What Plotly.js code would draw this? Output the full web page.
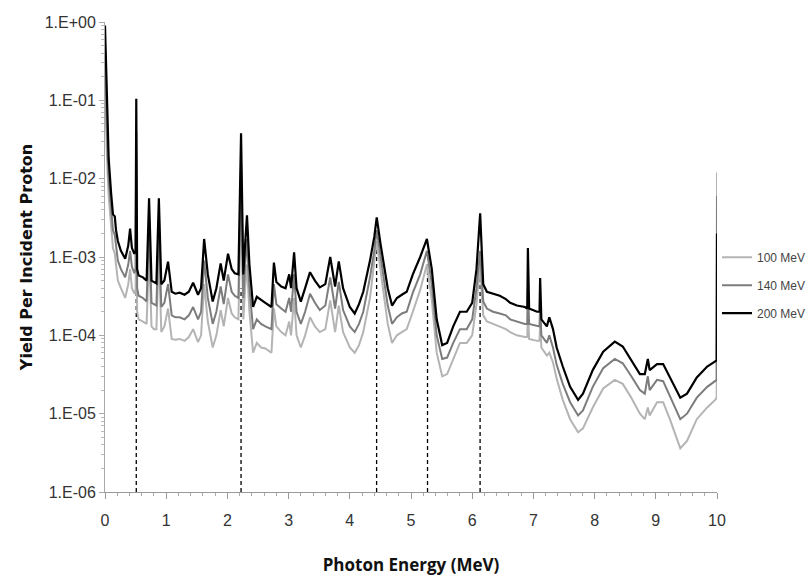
<!DOCTYPE html>
<html>
<head>
<meta charset="utf-8">
<script src="https://cdn.plot.ly/plotly-3.0.1.min.js"></script>
<style>html,body{margin:0;padding:0;background:#fff;}#chart{width:809px;height:581px;}</style>
</head>
<body>
<div id="chart"></div>
<script>
const energy = [
  0, 0.015, 0.03, 0.06, 0.10, 0.13, 0.16, 0.18, 0.21, 0.26,
  0.33, 0.38, 0.41, 0.44, 0.48, 0.50, 0.511, 0.525, 0.55, 0.62,
  0.68, 0.72, 0.76, 0.80, 0.84, 0.88, 0.92, 0.97, 1.03, 1.09,
  1.15, 1.22, 1.30, 1.37, 1.44, 1.52, 1.57, 1.62, 1.68, 1.76,
  1.82, 1.89, 1.94, 2.01, 2.07, 2.12, 2.18, 2.223, 2.26, 2.29,
  2.32, 2.36, 2.42, 2.48, 2.55, 2.62, 2.72, 2.76, 2.80, 2.88,
  2.95, 3.01, 3.04, 3.09, 3.13, 3.20, 3.27, 3.35, 3.43, 3.51,
  3.60, 3.68, 3.76, 3.82, 3.89, 4.00, 4.08, 4.15, 4.22, 4.33,
  4.40, 4.44, 4.50, 4.56, 4.62, 4.69, 4.77, 4.85, 4.93, 5.03,
  5.15, 5.26, 5.34, 5.42, 5.51, 5.59, 5.69, 5.80, 5.91, 6.00,
  6.07, 6.13, 6.18, 6.24, 6.34, 6.45, 6.55, 6.62, 6.73, 6.86,
  6.90, 6.91, 6.93, 7.06, 7.10, 7.11, 7.13, 7.22, 7.26, 7.32,
  7.38, 7.48, 7.60, 7.73, 7.81, 7.97, 8.14, 8.33, 8.46, 8.60,
  8.74, 8.82, 8.87, 8.90, 9.02, 9.12, 9.23, 9.40, 9.51, 9.67,
  9.84, 9.97, 9.995, 10.0
];

const yield100 = [
  0.3, 0.08, 0.02, 0.006, 0.0022, 0.0013, 0.0011, 0.0008, 0.0005, 0.0004,
  0.0003, 0.00045, 0.0007, 0.0004, 0.00034, 0.00038, 0.02, 0.0002, 0.00016, 0.00015,
  0.00014, 0.0012, 0.00013, 0.00012, 0.00012, 0.0012, 0.00011, 0.00013, 0.00022, 0.00009,
  0.000088, 0.00009, 0.000085, 0.000095, 0.00012, 0.000082, 0.0001, 0.00045, 0.00015, 0.00007,
  0.0001, 0.00021, 0.00013, 0.0003, 0.00019, 0.00017, 0.00016, 0.006, 0.00016, 0.0004,
  0.0008, 0.0002, 0.00006, 0.00008, 0.00007, 0.000068, 0.00006, 0.00022, 0.00013, 0.00011,
  0.0001, 0.00015, 0.0001, 0.0003, 0.0001, 0.00007, 0.0001, 0.00017, 0.00013, 0.00011,
  0.00012, 0.00028, 0.00011, 0.00024, 0.00011, 0.00007, 0.00006, 0.000075, 0.00011, 0.0003,
  0.0008, 0.0016, 0.0007, 0.0003, 0.00014, 0.00008, 0.0001, 0.00011, 0.00012, 0.0002,
  0.00038, 0.0008, 0.00028, 0.00006, 0.00003, 0.000032, 0.00005, 0.00008, 0.00008, 0.0001,
  0.00025, 0.0008, 0.00018, 0.00015, 0.00014, 0.00013, 0.00012, 0.00011, 0.0001, 0.000095,
  0.000095, 0.0002, 0.00009, 0.000085, 0.000085, 0.00014, 0.00007, 0.000055, 0.00006, 0.000045,
  0.000028, 0.000015, 0.0000085, 0.0000058, 0.0000065, 0.000012, 0.000021, 0.000027, 0.000024, 0.000016,
  0.00001, 0.0000085, 0.000012, 0.0000095, 0.000014, 0.000014, 0.0000085, 0.0000036, 0.0000045, 0.0000085,
  0.000012, 0.000015, 0.000016, 0.012
];

const yield140 = [
  0.5, 0.15, 0.04, 0.01, 0.0038, 0.0022, 0.0019, 0.0013, 0.0009, 0.0007,
  0.00055, 0.0008, 0.0012, 0.00075, 0.00062, 0.0007, 0.04, 0.0004, 0.00032, 0.0003,
  0.00027, 0.0025, 0.00026, 0.00025, 0.00024, 0.0025, 0.00023, 0.00026, 0.00045, 0.00018,
  0.00017, 0.00017, 0.00016, 0.00018, 0.00023, 0.00016, 0.0002, 0.0009, 0.0003, 0.00014,
  0.0002, 0.00042, 0.00025, 0.0006, 0.00036, 0.00032, 0.0003, 0.015, 0.0003, 0.0008,
  0.0017, 0.0004, 0.00012, 0.00016, 0.00014, 0.00013, 0.00012, 0.00045, 0.00025, 0.00022,
  0.0002, 0.0003, 0.0002, 0.0006, 0.0002, 0.00014, 0.0002, 0.00034, 0.00026, 0.00021,
  0.00024, 0.00055, 0.00022, 0.00048, 0.00021, 0.00013, 0.00011, 0.00014, 0.0002, 0.00055,
  0.0012, 0.0022, 0.001, 0.0005, 0.00024, 0.00014, 0.00017, 0.00019, 0.0002, 0.00035,
  0.0006, 0.0012, 0.00045, 0.0001, 0.00005, 0.000052, 0.00008, 0.00012, 0.00012, 0.00016,
  0.0004, 0.0012, 0.00027, 0.00022, 0.0002, 0.00019, 0.00018, 0.00016, 0.00015, 0.00014,
  0.00014, 0.0004, 0.00014, 0.00013, 0.00013, 0.00025, 0.0001, 0.00008, 0.0001, 0.00007,
  0.000042, 0.000024, 0.000014, 0.0000095, 0.000011, 0.000022, 0.000038, 0.00005, 0.000044, 0.00003,
  0.00002, 0.000018, 0.00003, 0.00002, 0.000027, 0.000026, 0.000017, 0.0000085, 0.00001, 0.000016,
  0.000022, 0.000026, 0.000027, 0.006
];

const yield200 = [
  0.9, 0.3, 0.08, 0.018, 0.0065, 0.0035, 0.0033, 0.0022, 0.0016, 0.0012,
  0.00095, 0.0014, 0.0023, 0.0013, 0.0011, 0.0012, 0.105, 0.0007, 0.00058, 0.00055,
  0.0005, 0.0056, 0.0005, 0.00048, 0.00046, 0.0056, 0.00045, 0.0005, 0.00087, 0.00036,
  0.00034, 0.00035, 0.00033, 0.00036, 0.00047, 0.00033, 0.0004, 0.0017, 0.0006, 0.00027,
  0.0004, 0.00083, 0.0005, 0.0011, 0.0007, 0.00062, 0.0006, 0.038, 0.0006, 0.0015,
  0.0034, 0.0008, 0.00023, 0.00031, 0.00028, 0.00026, 0.00023, 0.00085, 0.00048, 0.00042,
  0.0004, 0.0006, 0.0004, 0.00115, 0.0004, 0.00027, 0.0004, 0.00064, 0.0005, 0.00041,
  0.00045, 0.001, 0.00042, 0.00088, 0.0004, 0.00023, 0.00019, 0.00025, 0.00036, 0.0009,
  0.0018, 0.0032, 0.0015, 0.0008, 0.0004, 0.00024, 0.0003, 0.00033, 0.00036, 0.0006,
  0.001, 0.0017, 0.0007, 0.00016, 0.000075, 0.00008, 0.00013, 0.0002, 0.0002, 0.00026,
  0.0007, 0.0036, 0.00045, 0.00036, 0.00034, 0.00032, 0.00029, 0.00026, 0.00024, 0.00023,
  0.00022, 0.0013, 0.00022, 0.0002, 0.0002, 0.00054, 0.00016, 0.00013, 0.00017, 0.00012,
  0.00007, 0.00004, 0.000022, 0.000015, 0.000018, 0.000036, 0.000062, 0.000083, 0.000072, 0.000047,
  0.000032, 0.000032, 0.00005, 0.000036, 0.000043, 0.000043, 0.000029, 0.000016, 0.000018, 0.000029,
  0.00004, 0.000046, 0.000048, 0.002
];

const seriesNames = ['100 MeV', '140 MeV', '200 MeV'];

// characteristic gamma lines (dashed markers)
const lineEnergies = [0.511, 2.223, 4.438, 5.27, 6.129];
const lineTops = [0.0004, 0.0004, 0.0016, 0.0008, 0.0008];
const yFloor = 1e-6;

const yTickVals = [1, 0.1, 0.01, 0.001, 0.0001, 0.00001, 0.000001];
const yTickText = ['1.E+00', '1.E-01', '1.E-02', '1.E-03', '1.E-04', '1.E-05', '1.E-06'];

const dashX = [], dashY = [];
lineEnergies.forEach((e, i) => {
  dashX.push(e, e, null);
  dashY.push(yFloor, lineTops[i], null);
});

const narrow = '"Liberation Sans Narrow", "Arial Narrow", "Liberation Sans", sans-serif';

const traces = [
  {x: dashX, y: dashY, mode: 'lines', line: {color: '#000', width: 1.3, dash: '4px,3px'},
   showlegend: false, hoverinfo: 'skip'},
  {x: energy, y: yield100, name: seriesNames[0], mode: 'lines', legendgroup: 'a',
   line: {color: '#b4b4b4', width: 2}},
  {x: energy, y: yield140, name: seriesNames[1], mode: 'lines', legendgroup: 'b',
   line: {color: '#7c7c7c', width: 2}},
  {x: energy, y: yield200, name: seriesNames[2], mode: 'lines', legendgroup: 'c',
   line: {color: '#000000', width: 2.2}}
];

const layout = {
  width: 809, height: 581,
  margin: {l: 105, r: 92, t: 22, b: 89, autoexpand: false},
  paper_bgcolor: '#fff', plot_bgcolor: '#fff',
  showlegend: true,
  legend: {x: 1.0, xanchor: 'left', y: 0.44, yanchor: 'middle',
    font: {family: narrow, size: 12, color: '#444'},
    tracegroupgap: 9, itemwidth: 30, bgcolor: 'rgba(0,0,0,0)'},
  xaxis: {
    range: [0, 10], dtick: 1, tick0: 0,
    showgrid: false, zeroline: false,
    showline: true, linecolor: '#999', linewidth: 1,
    ticks: 'outside', ticklen: 6, tickcolor: '#999',
    ticklabelstandoff: 8,
    minor: {dtick: 0.2, ticks: 'outside', ticklen: 3, tickcolor: '#aaa'},
    tickfont: {family: narrow, size: 16, color: '#333'},
    title: {text: 'Photon Energy (MeV)', standoff: 30,
      font: {family: '"Open Sans", "Liberation Sans", sans-serif', size: 17, color: '#111', weight: 'bold'}}
  },
  yaxis: {
    type: 'log', range: [-6, 0],
    tickvals: yTickVals, ticktext: yTickText,
    showgrid: false, zeroline: false,
    showline: true, linecolor: '#aaa', linewidth: 1,
    ticks: 'outside', ticklen: 5, tickcolor: '#aaa',
    minor: {ticks: 'outside', ticklen: 3, tickcolor: '#bbb', dtick: 'D1'},
    tickfont: {family: narrow, size: 16, color: '#333'},
    title: {text: 'Yield Per Incident Proton', standoff: 8,
      font: {family: '"DejaVu Sans", "Liberation Sans", sans-serif', size: 16, color: '#111', weight: 'bold'}}
  }
};

Plotly.newPlot('chart', traces, layout, {displayModeBar: false, staticPlot: true});
</script>
</body>
</html>
